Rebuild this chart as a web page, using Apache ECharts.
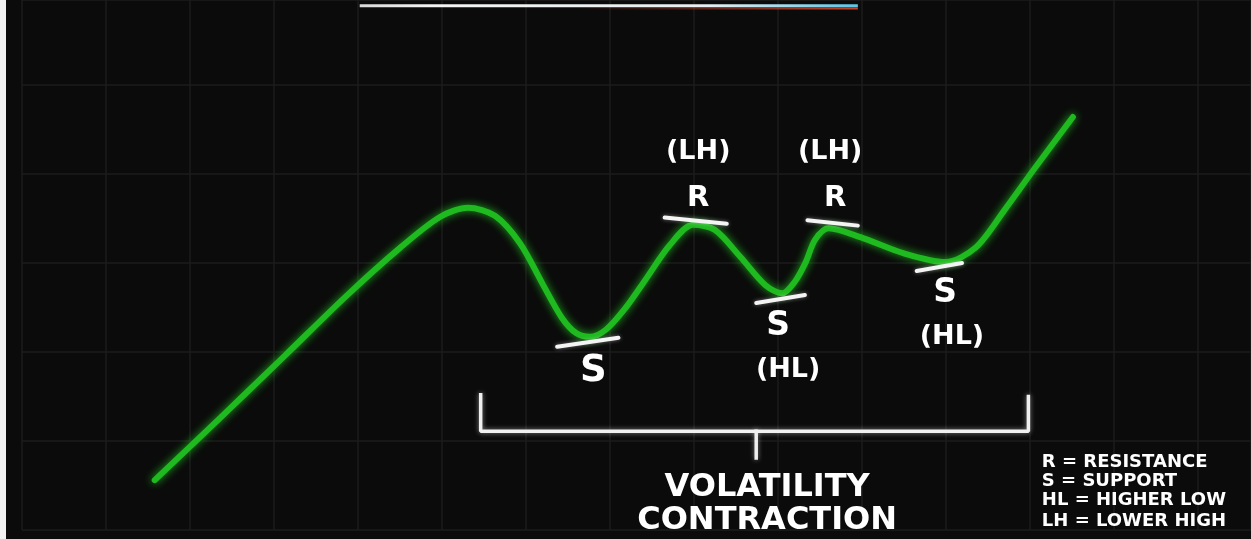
<!DOCTYPE html>
<html>
<head>
<meta charset="utf-8">
<title>Volatility Contraction</title>
<script src="https://cdn.jsdelivr.net/npm/echarts@6/dist/echarts.min.js"></script>
<style>
  html, body { margin: 0; padding: 0; background: #0b0b0b; }
  #wrap { position: relative; width: 1251px; height: 539px; }
  #chart { width: 1251px; height: 539px; }
  #edge { position: absolute; left: 0; top: 0; width: 6px; height: 539px; background: #f2f2f2; }
</style>
</head>
<body>
<div id="wrap">
  <div id="chart"></div>
  <div id="edge"></div>
</div>
<script>
// x = time in grid cells, y = price in grid cells
const priceX = [2.58, 3.36, 4.13, 4.85, 5.50, 5.98, 6.31, 6.63, 6.93, 7.20, 7.43, 7.60, 7.76, 7.95, 8.18, 8.42, 8.71,
  8.99, 9.25, 9.55, 9.85, 10.05, 10.20, 10.33, 10.44, 10.60, 10.98, 11.49, 11.99, 12.35, 12.70, 13.06, 13.51]
const priceY = [0.56, 1.26, 1.96, 2.62, 3.17, 3.52, 3.62, 3.53, 3.22, 2.76, 2.38, 2.21, 2.17, 2.25, 2.49, 2.81, 3.20,
  3.43, 3.37, 3.07, 2.75, 2.66, 2.79, 3.01, 3.26, 3.39, 3.29, 3.11, 3.01, 3.17, 3.60, 4.07, 4.64]

// support / resistance ticks: [x1, y1, x2, y2]
const levelLines = [
  [7.37, 2.06, 8.10, 2.16],   // S
  [8.65, 3.51, 9.39, 3.44],   // R (LH)
  [9.74, 2.55, 10.32, 2.64],  // S (HL)
  [10.35, 3.48, 10.95, 3.42], // R (LH)
  [11.65, 2.91, 12.19, 3.00]  // S (HL)
]

// text on the chart: [x, y, text, size]
const levelLabels = [
  [7.80, 1.78, 'S', 37],
  [9.05, 3.73, 'R', 29],
  [9.05, 4.25, '(LH)', 27],
  [10.68, 3.73, 'R', 29],
  [10.62, 4.25, '(LH)', 27],
  [10.00, 2.29, 'S', 33],
  [10.12, 1.80, '(HL)', 27],
  [11.99, 2.66, 'S', 33],
  [12.07, 2.17, '(HL)', 27],
  [9.87, 0.48, 'VOLATILITY', 32],
  [9.87, 0.10, 'CONTRACTION', 32]
]

const bracketX = [6.46, 6.46, 12.98, 12.98]
const bracketY = [1.52, 1.11, 1.11, 1.50]
const stemX = [9.74, 9.74]
const stemY = [1.11, 0.81]

const keyLines = ['R = RESISTANCE', 'S = SUPPORT', 'HL = HIGHER LOW', 'LH = LOWER HIGH']
const keyY = [0.76, 0.55, 0.33, 0.10]
const keyX = 13.14

const topBarX = [5.02, 10.95]
const topBarY = [5.89, 5.89]
const topRedX = [7.6, 10.95]
const topRedY = [5.86, 5.86]

const font = '"DejaVu Sans", "Open Sans", sans-serif'

function pairs(xs, ys) {
  return xs.map((x, i) => [x, ys[i]])
}

const chart = echarts.init(document.getElementById('chart'))

let series = []

series.push({
  type: 'line',
  data: pairs(priceX, priceY),
  smooth: 0.3,
  showSymbol: false,
  silent: true,
  clip: false,
  z: 3,
  lineStyle: {
    color: '#1fba1f',
    width: 6,
    cap: 'round',
    shadowColor: 'rgba(40,230,40,0.75)',
    shadowBlur: 9
  }
})

for (let i = 0; i < levelLines.length; i++) {
  let l = levelLines[i]
  series.push({
    type: 'line',
    data: [[l[0], l[1]], [l[2], l[3]]],
    showSymbol: false,
    silent: true,
    z: 4,
    lineStyle: { color: '#f4f4f4', width: 4, cap: 'round', shadowColor: 'rgba(255,255,255,0.4)', shadowBlur: 4 }
  })
}

const whiteStroke = { color: '#f0f0f0', width: 3.5, cap: 'square', shadowColor: 'rgba(255,255,255,0.5)', shadowBlur: 5 }

series.push({
  type: 'line', data: pairs(bracketX, bracketY), showSymbol: false, silent: true, z: 4,
  lineStyle: whiteStroke
})
series.push({
  type: 'line', data: pairs(stemX, stemY), showSymbol: false, silent: true, z: 4,
  lineStyle: whiteStroke
})

// thin bar at the top of the frame
series.push({
  type: 'line', data: pairs(topRedX, topRedY), showSymbol: false, silent: true, clip: false, z: 4,
  lineStyle: {
    width: 2,
    color: new echarts.graphic.LinearGradient(0, 0, 1, 0, [
      { offset: 0, color: 'rgba(190,60,40,0)' },
      { offset: 1, color: '#c4452c' }
    ])
  }
})
series.push({
  type: 'line', data: pairs(topBarX, topBarY), showSymbol: false, silent: true, clip: false, z: 5,
  lineStyle: {
    width: 3,
    color: new echarts.graphic.LinearGradient(0, 0, 1, 0, [
      { offset: 0, color: '#d8d8d8' },
      { offset: 0.15, color: '#f4f4f4' },
      { offset: 0.7, color: '#e6eef0' },
      { offset: 1, color: '#58c4e8' }
    ])
  }
})

series.push({
  type: 'scatter',
  symbolSize: 0,
  silent: true,
  z: 6,
  itemStyle: { opacity: 1 },
  data: levelLabels.map(d => ({
    value: [d[0], d[1]],
    label: { fontSize: d[3] }
  })),
  label: {
    show: true,
    position: 'inside',
    color: '#ffffff',
    opacity: 1,
    textBorderWidth: 0,
    fontFamily: font,
    fontWeight: 'bold',
    formatter: p => levelLabels[p.dataIndex][2]
  }
})

series.push({
  type: 'scatter',
  symbolSize: 0,
  silent: true,
  z: 6,
  itemStyle: { opacity: 1 },
  data: keyY.map(y => [keyX, y]),
  label: {
    show: true,
    position: 'inside',
    align: 'left',
    color: '#ffffff',
    opacity: 1,
    textBorderWidth: 0,
    fontFamily: font,
    fontWeight: 'bold',
    fontSize: 18,
    formatter: p => keyLines[p.dataIndex]
  }
})

chart.setOption({
  backgroundColor: '#0b0b0b',
  animation: false,
  grid: { left: 22, right: 0, top: 0, bottom: 9 },
  xAxis: {
    type: 'value',
    min: 1,
    max: 15.63,
    interval: 1,
    axisLine: { show: false },
    axisTick: { show: false },
    axisLabel: { show: false },
    splitLine: { show: true, lineStyle: { color: '#1c1c1c', width: 1.5 } }
  },
  yAxis: {
    type: 'value',
    min: 0,
    max: 5.955,
    interval: 1,
    axisLine: { show: false },
    axisTick: { show: false },
    axisLabel: { show: false },
    splitLine: { show: true, lineStyle: { color: '#1c1c1c', width: 1.5 } }
  },
  series: series
})
</script>
</body>
</html>
